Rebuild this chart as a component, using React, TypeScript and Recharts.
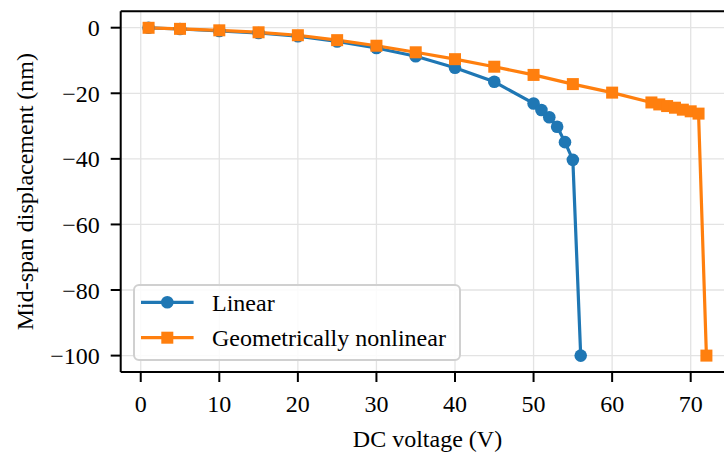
import React from 'react';
import { LineChart, Line, XAxis, YAxis, CartesianGrid, Legend, ReferenceLine } from 'recharts';

const linearVoltage = [1, 5, 10, 15, 20, 25, 30, 35, 40, 45, 50, 51, 52, 53, 54, 55, 56];
const linearDisp = [-0.03, -0.4, -1.0, -1.6, -2.6, -4.2, -6.2, -8.7, -12.2, -16.5, -23.1, -25.1, -27.3, -30.2, -34.9, -40.3, -100];
const nonlinearVoltage = [1, 5, 10, 15, 20, 25, 30, 35, 40, 45, 50, 55, 60, 65, 66, 67, 68, 69, 70, 71, 72];
const nonlinearDisp = [-0.03, -0.35, -0.8, -1.4, -2.3, -3.8, -5.5, -7.5, -9.6, -11.9, -14.4, -17.2, -19.8, -22.8, -23.4, -23.9, -24.4, -25.0, -25.5, -26.2, -100];
const xTicks = [0, 10, 20, 30, 40, 50, 60, 70];
const yTicks = [0, -20, -40, -60, -80, -100];
const seriesNames = ['Linear', 'Geometrically nonlinear'];
const xLabel = 'DC voltage (V)';
const yLabel = 'Mid-span displacement (nm)';

const BLUE = '#1f77b4';
const ORANGE = '#ff7f0e';
const FONT = "'Liberation Serif', 'DejaVu Serif', serif";

const linearData = linearVoltage.map((v, i) => ({ v, d: linearDisp[i] }));
const nonlinearData = nonlinearVoltage.map((v, i) => ({ v, d: nonlinearDisp[i] }));

const fmt = (n: number) => String(n).replace('-', '\u2212');

const CircleDot = (props: any) => {
  const { cx, cy, index } = props;
  if (cx == null || cy == null) return <g key={`c-${index}`} />;
  return <circle key={`c-${index}`} cx={cx} cy={cy} r={6.3} fill={BLUE} />;
};

const SquareDot = (props: any) => {
  const { cx, cy, index } = props;
  if (cx == null || cy == null) return <g key={`s-${index}`} />;
  return <rect key={`s-${index}`} x={cx - 6} y={cy - 6} width={12} height={12} fill={ORANGE} />;
};

const LegendBox = () => {
  const w = 328;
  const h = 77;
  const rows = [18.3, 53.7];
  return (
    <svg width={w} height={h} style={{ display: 'block' }}>
      <rect x={1} y={1} width={w - 2} height={h - 2} rx={5} ry={5} fill="rgba(255,255,255,0.85)" stroke="#d0d0d0" strokeWidth={2} />
      <line x1={8} x2={60.6} y1={rows[0]} y2={rows[0]} stroke={BLUE} strokeWidth={3.2} />
      <circle cx={34.3} cy={rows[0]} r={6.3} fill={BLUE} />
      <text x={79} y={rows[0] + 8.5} fontFamily={FONT} fontSize={24} fill="#000">{seriesNames[0]}</text>
      <line x1={8} x2={60.6} y1={rows[1]} y2={rows[1]} stroke={ORANGE} strokeWidth={3.2} />
      <rect x={28.3} y={rows[1] - 6} width={12} height={12} fill={ORANGE} />
      <text x={79} y={rows[1] + 8.5} fontFamily={FONT} fontSize={24} fill="#000">{seriesNames[1]}</text>
    </svg>
  );
};

export default function App() {
  return (
    <div style={{ position: 'fixed', left: 0, top: 0, width: 724, height: 453, overflow: 'hidden', background: '#fff' }}>
      <LineChart width={760} height={453} margin={{ top: 11.3, right: 25.7, bottom: 0, left: 0 }}>
        <CartesianGrid stroke="#e3e3e3" strokeWidth={1.3} />
        <XAxis
          dataKey="v"
          type="number"
          domain={[-2.55, 75.55]}
          ticks={xTicks}
          allowDataOverflow
          height={81}
          tickSize={10}
          tickMargin={13}
          axisLine={{ stroke: '#000', strokeWidth: 2 }}
          tickLine={{ stroke: '#000', strokeWidth: 2 }}
          tick={{ fill: '#000', fontSize: 24, fontFamily: FONT }}
          tickFormatter={fmt}
          label={{ value: xLabel, position: 'insideBottom', offset: 6, fill: '#000', fontSize: 24, fontFamily: FONT }}
        />
        <YAxis
          type="number"
          domain={[-105, 5]}
          ticks={yTicks}
          allowDataOverflow
          width={120.7}
          tickSize={10}
          tickMargin={11}
          axisLine={{ stroke: '#000', strokeWidth: 2 }}
          tickLine={{ stroke: '#000', strokeWidth: 2 }}
          tick={{ fill: '#000', fontSize: 24, fontFamily: FONT }}
          tickFormatter={fmt}
          label={{ value: yLabel, angle: -90, position: 'insideLeft', offset: 24, fill: '#000', fontSize: 24, fontFamily: FONT, style: { textAnchor: 'middle' } }}
        />
        <ReferenceLine y={5} stroke="#000" strokeWidth={2} />
        <Line
          data={linearData}
          dataKey="d"
          name={seriesNames[0]}
          stroke={BLUE}
          strokeWidth={3.2}
          dot={CircleDot}
          activeDot={false}
          isAnimationActive={false}
        />
        <Line
          data={nonlinearData}
          dataKey="d"
          name={seriesNames[1]}
          stroke={ORANGE}
          strokeWidth={3.2}
          dot={SquareDot}
          activeDot={false}
          isAnimationActive={false}
        />
        <Legend
          layout="horizontal"
          verticalAlign="middle"
          align="center"
          content={() => <LegendBox />}
          wrapperStyle={{ left: 132.7, top: 284, width: 328, height: 77 }}
        />
      </LineChart>
    </div>
  );
}
